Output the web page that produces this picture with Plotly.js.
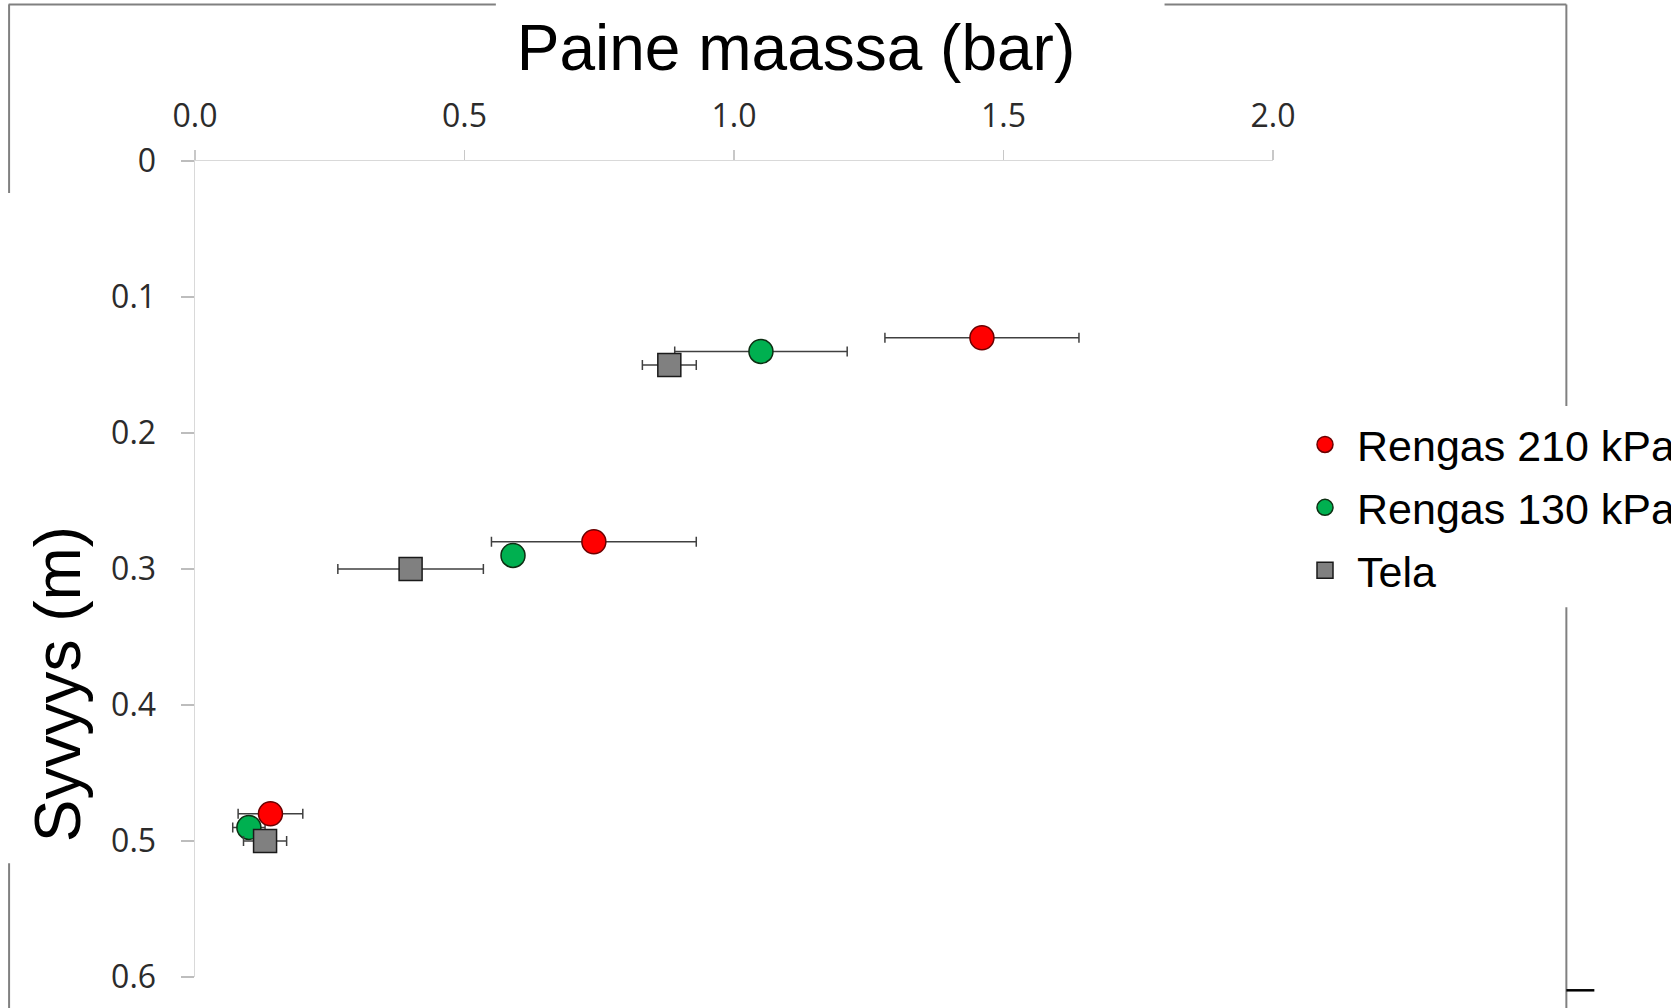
<!DOCTYPE html>
<html>
<head>
<meta charset="utf-8">
<script src="https://cdn.plot.ly/plotly-3.0.1.min.js"></script>
<style>html,body{margin:0;padding:0;background:#fff;}#chart{width:1671px;height:1008px;}</style>
</head>
<body>
<div id="chart"></div>
<script>
// ---- data ----
const seriesNames = ["Rengas 210 kPa", "Rengas 130 kPa", "Tela"];
const depthRed   = [0.13, 0.28, 0.48];
const depthGreen = [0.14, 0.29, 0.49];
const depthTela  = [0.15, 0.30, 0.50];
const pressRed   = [1.46, 0.74, 0.14];
const pressGreen = [1.05, 0.59, 0.10];
const pressTela  = [0.88, 0.40, 0.13];
const errRed     = [0.18, 0.19, 0.06];
const errGreen   = [0.16, 0.02, 0.03];
const errTela    = [0.05, 0.135, 0.04];
const xTickVals  = [0, 0.5, 1.0, 1.5, 2.0];
const xTickText  = ["0.0", "0.5", "1.0", "1.5", "2.0"];
const yTickVals  = [0, 0.1, 0.2, 0.3, 0.4, 0.5, 0.6];
const yTickText  = ["0", "0.1", "0.2", "0.3", "0.4", "0.5", "0.6"];

// ---- layout geometry ----
const W = 1671, H = 1008;
const L = 195, R = 1273.5, T = 161, B = 976.7;
const pw = R - L, ph = B - T;
const px = x => (x - L) / pw;
const py = y => 1 - (y - T) / ph;

function errBar(arr) {
  return {type: 'data', array: arr, symmetric: true, visible: true,
          color: '#404040', thickness: 1.5, width: 5};
}

const traces = [
  {
    name: seriesNames[1], x: pressGreen, y: depthGreen, type: 'scatter', mode: 'markers',
    legendrank: 2, legendgroup: 'g2',
    marker: {symbol: 'circle', size: 24, color: '#00b050', line: {color: '#0d2e12', width: 1.5}},
    error_x: errBar(errGreen)
  },
  {
    name: seriesNames[0], x: pressRed, y: depthRed, type: 'scatter', mode: 'markers',
    legendrank: 1, legendgroup: 'g1',
    marker: {symbol: 'circle', size: 24, color: '#ff0000', line: {color: '#6b0000', width: 1.5}},
    error_x: errBar(errRed)
  },
  {
    name: seriesNames[2], x: pressTela, y: depthTela, type: 'scatter', mode: 'markers',
    legendrank: 3, legendgroup: 'g3',
    marker: {symbol: 'square', size: 23, color: '#808080', line: {color: '#1a1a1a', width: 1.5}},
    error_x: errBar(errTela)
  }
];

const frame = '#808080';
function seg(x0, y0, x1, y1, color, width) {
  return {type: 'line', xref: 'paper', yref: 'paper',
          x0: px(x0), y0: py(y0), x1: px(x1), y1: py(y1),
          line: {color: color, width: width}};
}
const shapes = [
  seg(8.5, 4.5, 496, 4.5, frame, 2),
  seg(1165, 4.5, 1567, 4.5, frame, 2),
  seg(9, 4.5, 9, 193, frame, 2),
  seg(9, 863, 9, 1008, frame, 2),
  seg(1567, 4.5, 1567, 406, frame, 2),
  seg(1567, 607, 1567, 1008, frame, 2),
  seg(1567, 990, 1595, 990, '#000000', 2.5)
];

const layout = {
  width: W, height: H,
  margin: {l: L, r: W - R, t: T, b: H - B, pad: 0, autoexpand: false},
  paper_bgcolor: '#ffffff', plot_bgcolor: '#ffffff',
  showlegend: true,
  title: {
    text: 'Paine maassa (bar)',
    font: {family: 'Liberation Sans, Arial, sans-serif', size: 64, color: '#000'},
    x: 796 / W, xref: 'container', xanchor: 'center',
    y: 1 - 48 / H, yref: 'container', yanchor: 'middle'
  },
  xaxis: {
    side: 'top', range: [0, 2], tickvals: xTickVals, ticktext: xTickText,
    showgrid: false, zeroline: false,
    showline: true, linecolor: '#d9d9d9', linewidth: 1.5,
    ticks: 'outside', ticklen: 10, tickcolor: '#c8c8c8', tickwidth: 1.5,
    tickfont: {family: 'Open Sans, sans-serif', size: 32, color: '#2b2b2b'},
    ticklabelstandoff: 10,
    automargin: false,
    fixedrange: true
  },
  yaxis: {
    range: [0.6, 0], tickvals: yTickVals, ticktext: yTickText,
    showgrid: false, zeroline: false,
    showline: true, linecolor: '#d9d9d9', linewidth: 1.5,
    ticks: 'outside', ticklen: 13, tickcolor: '#bdbdbd', tickwidth: 1.5,
    tickfont: {family: 'Open Sans, sans-serif', size: 32, color: '#2b2b2b'},
    ticklabelstandoff: 18,
    automargin: false,
    fixedrange: true
  },
  annotations: [{
    text: 'Syvyys (m)', textangle: -90, showarrow: false,
    xref: 'paper', yref: 'paper', x: px(58), y: py(684),
    xanchor: 'center', yanchor: 'middle',
    font: {family: 'Liberation Sans, Arial, sans-serif', size: 64, color: '#000'}
  }],
  legend: {
    x: 1293 / W, xref: 'container', xanchor: 'left',
    y: 1 - 410 / H, yref: 'container', yanchor: 'top',
    font: {family: 'Liberation Sans, Arial, sans-serif', size: 43, color: '#000'},
    bgcolor: 'rgba(255,255,255,0)', borderwidth: 0,
    itemwidth: 54, tracegroupgap: 4, traceorder: 'grouped'
  },
  shapes: shapes
};

Plotly.newPlot('chart', traces, layout, {displayModeBar: false, staticPlot: true});
</script>
</body>
</html>
